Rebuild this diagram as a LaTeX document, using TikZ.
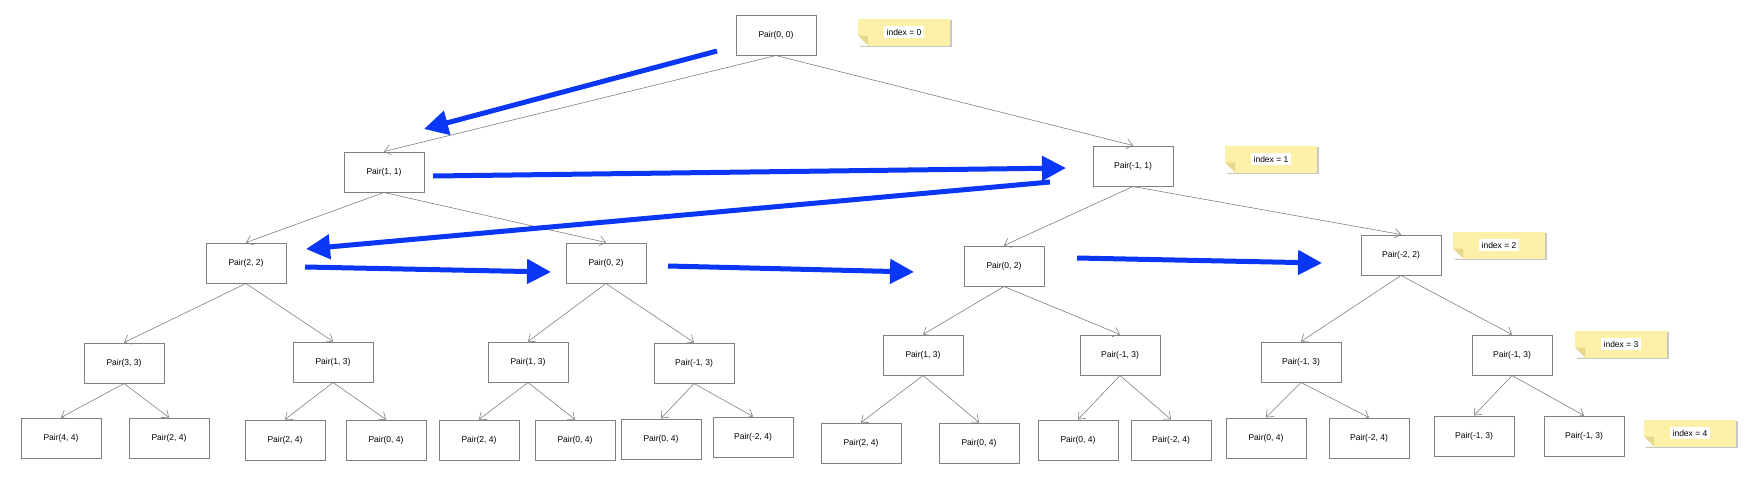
\documentclass[tikz,border=0pt]{standalone}
\usepackage{fontspec}
\setmainfont{Liberation Sans}
\usetikzlibrary{arrows.meta,shadows}
\definecolor{notefill}{RGB}{253,240,168}
\definecolor{notefold}{RGB}{232,216,140}
\definecolor{walkblue}{RGB}{10,55,245}
\begin{document}
\begin{tikzpicture}[x=1pt,y=-1pt]
      \useasboundingbox (0,0) rectangle (1745,488);
      \begin{scope}[every node/.style={draw=black!50,line width=1pt,fill=white,minimum width=80pt,minimum height=40pt,inner sep=0pt,font=\fontsize{8.5}{9}\selectfont}]
        \node (1) at (776,35) {Pair(0, 0)};
        \node (2) at (384,172) {Pair(1, 1)};
        \node (3) at (1133,166) {Pair(-1, 1)};
        \node (4) at (246,263) {Pair(2, 2)};
        \node (5) at (606,263) {Pair(0, 2)};
        \node (6) at (1004,266) {Pair(0, 2)};
        \node (7) at (1401,255) {Pair(-2, 2)};
        \node (8) at (124,363) {Pair(3, 3)};
        \node (9) at (333,362) {Pair(1, 3)};
        \node (10) at (528,362) {Pair(1, 3)};
        \node (11) at (694,363) {Pair(-1, 3)};
        \node (12) at (923,355) {Pair(1, 3)};
        \node (13) at (1120,355) {Pair(-1, 3)};
        \node (14) at (1301,362) {Pair(-1, 3)};
        \node (15) at (1512,355) {Pair(-1, 3)};
        \node (16) at (61,438) {Pair(4, 4)};
        \node (17) at (169,438) {Pair(2, 4)};
        \node (18) at (285,440) {Pair(2, 4)};
        \node (19) at (386,440) {Pair(0, 4)};
        \node (20) at (479,440) {Pair(2, 4)};
        \node (21) at (575,440) {Pair(0, 4)};
        \node (22) at (661,439) {Pair(0, 4)};
        \node (23) at (753,437) {Pair(-2, 4)};
        \node (24) at (861,443) {Pair(2, 4)};
        \node (25) at (979,443) {Pair(0, 4)};
        \node (26) at (1078,440) {Pair(0, 4)};
        \node (27) at (1171,440) {Pair(-2, 4)};
        \node (28) at (1266,438) {Pair(0, 4)};
        \node (29) at (1369,438) {Pair(-2, 4)};
        \node (30) at (1474,436) {Pair(-1, 3)};
        \node (31) at (1584,436) {Pair(-1, 3)};
      \end{scope}
      \begin{scope}[every edge/.style={draw,black!50,line width=0.6pt,-{Straight Barb[length=6pt,width=10pt]}}]
        \path (1.south) edge (2.north);
        \path (1.south) edge (3.north);
        \path (2.south) edge (4.north);
        \path (2.south) edge (5.north);
        \path (3.south) edge (6.north);
        \path (3.south) edge (7.north);
        \path (4.south) edge (8.north);
        \path (4.south) edge (9.north);
        \path (5.south) edge (10.north);
        \path (5.south) edge (11.north);
        \path (6.south) edge (12.north);
        \path (6.south) edge (13.north);
        \path (7.south) edge (14.north);
        \path (7.south) edge (15.north);
        \path (8.south) edge (16.north);
        \path (8.south) edge (17.north);
        \path (9.south) edge (18.north);
        \path (9.south) edge (19.north);
        \path (10.south) edge (20.north);
        \path (10.south) edge (21.north);
        \path (11.south) edge (22.north);
        \path (11.south) edge (23.north);
        \path (12.south) edge (24.north);
        \path (12.south) edge (25.north);
        \path (13.south) edge (26.north);
        \path (13.south) edge (27.north);
        \path (14.south) edge (28.north);
        \path (14.south) edge (29.north);
        \path (15.south) edge (30.north);
        \path (15.south) edge (31.north);
      \end{scope}
      % notes
      \begin{scope}[every node/.style={fill=notefill,minimum width=92pt,minimum height=27pt,inner sep=0pt,
          drop shadow={shadow xshift=1.5pt,shadow yshift=-1.5pt,fill=black!22,opacity=1},
          font=\fontsize{8.5}{9}\selectfont,
          path picture={
            \fill[white] (path picture bounding box.south west) -- ++(10pt,0pt) -- ++(-10pt,10pt) -- cycle;
            \fill[notefold] (path picture bounding box.south west) ++(0pt,10pt) -- ++(10pt,0pt) -- ++(0pt,-10pt) -- cycle;
          }}]
        \node (n0) at (904,32) {\colorbox{white}{index = 0}};
        \node (n1) at (1271,159) {\colorbox{white}{index = 1}};
        \node (n2) at (1499,245) {\colorbox{white}{index = 2}};
        \node (n3) at (1621,344) {\colorbox{white}{index = 3}};
        \node (n4) at (1690,433) {\colorbox{white}{index = 4}};
      \end{scope}
      % visiting order
      \coordinate (w1s) at (717,51);
      \coordinate (w1e) at (424,129);
      \coordinate (w2s) at (433,176);
      \coordinate (w2e) at (1066,168);
      \coordinate (w3s) at (1050,182);
      \coordinate (w3e) at (306,249);
      \coordinate (w4s) at (305,267);
      \coordinate (w4e) at (551,272);
      \coordinate (w5s) at (668,266);
      \coordinate (w5e) at (914,272);
      \coordinate (w6s) at (1077,258);
      \coordinate (w6e) at (1322,263);
      \begin{scope}[every path/.style={draw=walkblue,line width=5pt,-{Triangle[length=24pt,width=24pt]}}]
        \path (w1s) -- (w1e);
        \path (w2s) -- (w2e);
        \path (w3s) -- (w3e);
        \path (w4s) -- (w4e);
        \path (w5s) -- (w5e);
        \path (w6s) -- (w6e);
      \end{scope}
    \end{tikzpicture}
\end{document}
